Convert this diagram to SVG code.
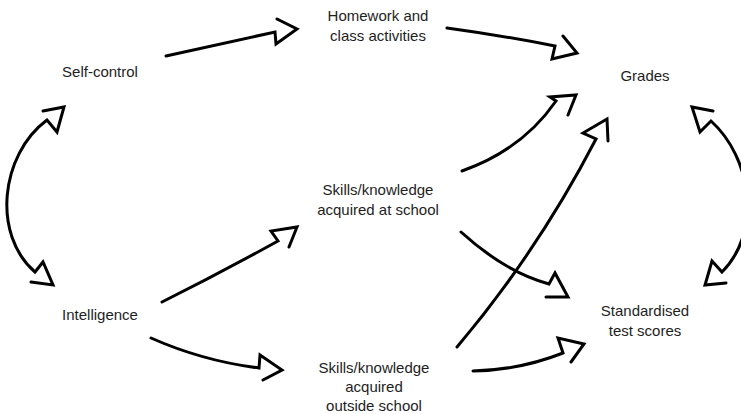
<svg xmlns="http://www.w3.org/2000/svg" width="741" height="414" viewBox="0 0 741 414">
<style>
.lbl{font-family:"Liberation Sans",Arial,sans-serif;font-size:15px;fill:#1e1e1e;text-anchor:middle}
.c{fill:none;stroke:#000;stroke-width:3;stroke-linecap:round;stroke-linejoin:miter;stroke-miterlimit:10}
</style>
<rect width="741" height="414" fill="#fff"/>
<g id="connectors">
<path class="c" d="M166,56 L275,32 L276,44 L297,29 L277,19"/>
<path class="c" d="M447,28 Q505,36 555,46 L552,59 L577,53 L563,36"/>
<path class="c" d="M462,171 Q522,150 556,101 L550,97 L576,95 L568,115"/>
<path class="c" d="M457,347 Q538,251 596,139 L583,133 L607,119 L608,141"/>
<path class="c" d="M461,232 Q505,272 549,284 L555,273 L568,297 L546,297"/>
<path class="c" d="M473,371 Q520,370 563,353 L558,338 L584,344 L571,362"/>
<path class="c" d="M162,302 Q220,273 278,241 L271,231 L297,227 L289,247"/>
<path class="c" d="M151,338 Q203,361 259,368 L260,355 L282,370 L263,380"/>
<path class="c" d="M43,111 L64,107 L57,132 L47,120 C0,155 -8,235 35,272 L43,262 L53,285 L31,282"/>
<path class="c" d="M713,111 L692,107 L700,132 L711,121 C752,158 762,232 722,272 L712,261 L705,285 L726,283"/>
</g>
<g id="self-control"><text class="lbl" x="100" y="77">Self-control</text></g>
<g id="homework"><text class="lbl" x="378" y="21">Homework and</text><text class="lbl" x="378" y="41">class activities</text></g>
<g id="grades"><text class="lbl" x="645" y="81">Grades</text></g>
<g id="skills-school"><text class="lbl" x="378" y="195">Skills/knowledge</text><text class="lbl" x="378" y="215">acquired at school</text></g>
<g id="intelligence"><text class="lbl" x="100" y="320">Intelligence</text></g>
<g id="standardised"><text class="lbl" x="645" y="316">Standardised</text><text class="lbl" x="645" y="336">test scores</text></g>
<g id="skills-outside"><text class="lbl" x="374" y="373">Skills/knowledge</text><text class="lbl" x="374" y="392">acquired</text><text class="lbl" x="374" y="411">outside school</text></g>
</svg>
